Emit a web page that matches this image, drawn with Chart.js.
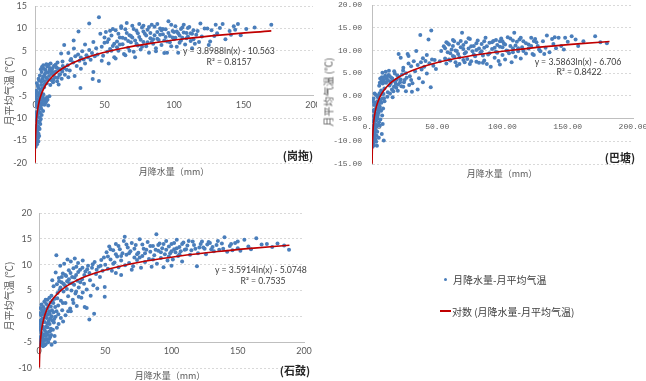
<!DOCTYPE html>
<html>
<head>
<meta charset="utf-8">
<script src="https://cdn.jsdelivr.net/npm/chart.js@4.4.0/dist/chart.umd.min.js"></script>
<style>
  body { margin: 0; width: 646px; height: 381px; background: #fff; position: relative; overflow: hidden; font-family: "Noto Sans CJK SC", sans-serif; }
  .box { position: absolute; overflow: hidden; }
  .t { position: absolute; white-space: nowrap; transform: translate(-50%, -50%); }
  .yt { position: absolute; white-space: nowrap; transform: translate(-50%, -50%) rotate(-90deg); font-size: 10px; color: #595959; }
  .xt { font-size: 9px; color: #595959; }
  .st { font-size: 11px; font-weight: bold; color: #262626; }
  .eq { font-family: Lato, sans-serif; font-size: 8.7px; color: #404040; }
  .lg { position: absolute; white-space: nowrap; transform: translateY(-50%); font-size: 10px; color: #404040; }
</style>
</head>
<body>
<div class="box" style="left:0;top:0;width:317px;height:180px"><canvas id="gangtuo" width="317" height="180"></canvas></div>
<div class="box" style="left:320px;top:0;width:326px;height:180px"><canvas id="batang" width="326" height="180"></canvas></div>
<div class="box" style="left:0;top:190px;width:317px;height:191px"><canvas id="shigu" width="317" height="191"></canvas></div>

<div class="yt" style="left:8px;top:91px">月平均气温 (℃)</div>
<div class="yt" style="left:328px;top:92px">月平均气温 (℃)</div>
<div class="yt" style="left:8px;top:296px">月平均气温 (℃)</div>

<div class="t xt" style="left:174px;top:171px">月降水量（mm）</div>
<div class="t xt" style="left:502px;top:173px">月降水量（mm）</div>
<div class="t xt" style="left:170px;top:375px">月降水量（mm）</div>

<div class="t st" style="left:298px;top:155px">(岗拖)</div>
<div class="t st" style="left:620px;top:157px">(巴塘)</div>
<div class="t st" style="left:295px;top:370px">(石鼓)</div>

<div class="t eq" style="left:229px;top:50px">y = 3.8988ln(x) - 10.563</div>
<div class="t eq" style="left:229px;top:61px">R² = 0.8157</div>
<div class="t eq" style="left:578px;top:61px">y = 3.5863ln(x) - 6.706</div>
<div class="t eq" style="left:579px;top:71px">R² = 0.8422</div>
<div class="t eq" style="left:261px;top:269px">y = 3.5914ln(x) - 5.0748</div>
<div class="t eq" style="left:263px;top:280px">R² = 0.7535</div>

<div style="position:absolute;left:443.5px;top:277.5px;width:3px;height:3px;border-radius:50%;background:#4a7ebb"></div>
<div class="lg" style="left:453px;top:279px">月降水量-月平均气温</div>
<div style="position:absolute;left:440px;top:310px;width:11px;height:1.6px;background:#c00000"></div>
<div class="lg" style="left:452px;top:311px">对数 (月降水量-月平均气温)</div>

<script>
// scatter points [rain mm, temp °C]
const gangtuoPoints = [
  [0.5,-16.4],[0.8,-15.5],[1.2,-14.8],[0.6,-14.2],[1.5,-13.9],[2.1,-14.5],[0.9,-13.2],[1.8,-12.8],[2.5,-13.5],[3.0,-14.0],
  [0.4,-12.1],[1.1,-11.7],[2.2,-11.9],[3.3,-12.4],[1.6,-10.8],[0.7,-10.3],[2.7,-10.9],[3.8,-11.3],[1.3,-9.6],[2.0,-9.1],
  [3.1,-9.8],[4.2,-10.2],[0.9,-8.7],[2.6,-8.2],[3.6,-8.8],[1.7,-7.6],[4.5,-7.9],[0.5,-7.1],[2.9,-7.3],[3.9,-6.8],
  [1.2,-6.4],[2.3,-6.0],[5.0,-6.6],[0.8,-5.6],[3.4,-5.4],[4.6,-5.9],[1.9,-4.9],[2.8,-4.4],[5.5,-5.2],[1.0,-3.9],
  [3.7,-3.6],[2.4,-3.2],[4.1,-4.1],[6.0,-4.7],[0.6,-4.3],[2.0,-2.8],[5.2,-3.4],[1.4,-2.2],[3.0,-1.6],[4.4,-2.6],
  [6.5,-3.1],[7.2,-5.8],[8.0,-6.3],[9.5,-7.2],[6.8,-7.0],[5.8,-8.4],[8.6,-5.4],[10.3,-5.1],[4.8,-9.3],[2.4,-15.2],[1.0,-12.6],
  [1.5,-15.8],[2.8,-12.2],[1.9,-11.0],[3.5,-10.6],[0.7,-9.0],[2.3,-8.5],[4.0,-7.4],[1.5,-6.8],[3.2,-6.2],[5.5,-6.9],
  [1.0,-5.0],[3.6,-4.8],[5.8,-5.6],[7.5,-6.6],[9.0,-5.9],[6.2,-6.1],
  [3.5,-0.5],[4.8,0.3],[5.5,-1.2],[6.2,1.0],[6.9,-0.3],[7.5,0.8],[8.1,-1.0],[8.8,1.5],[9.4,0.2],[10.1,-0.6],
  [10.7,1.2],[11.5,-1.5],[12.2,0.5],[12.9,-0.2],[13.6,1.6],[14.4,-0.9],[15.1,0.4],[15.9,-1.8],[16.7,1.0],[17.5,-0.4],
  [18.3,0.9],[19.2,-1.2],[20.0,1.6],[6.0,1.8],[8.4,-2.2],[11.0,-2.6],[13.0,-2.0],[7.0,-1.8],[5.0,1.4],[9.8,1.9],
  [14.8,1.9],[17.0,-2.5],[21.5,-0.3],[22.8,0.8],[24.0,-0.9],[16.2,2.4],[19.8,2.6],[23.5,1.8],[25.5,2.9],[18.8,4.4],
  [2.6,-1.2],[4.6,-1.9],[5.9,-0.7],[7.8,0.1],[9.1,-1.4],[10.4,0.6],[11.8,-0.1],[12.6,1.1],[14.0,0.2],[15.5,1.3],
  [16.4,-1.0],[18.0,-0.2],[19.6,0.4],[21.0,1.1],[8.2,2.0],[11.2,2.2],[13.2,-1.4],[4.2,0.9],[6.6,-2.5],
  [21,6.3],[24,4.5],[26,3.2],[27.5,2.4],[28,5.5],[29,3.8],[30,1.6],[31,4.2],[32,2.8],[33,3.5],
  [34,4.9],[35,3.1],[36,2.2],[37,4.0],[38,3.6],[39,5.2],[40,3.0],[41,4.5],[42,0.3],[43,3.8],
  [44,5.6],[45,4.2],[46,-1.7],[41.5,-1.3],[32.7,-3.3],[27.8,7.3],[31.3,9.3],[39,11.1],[46,12.5],[36,6.4],
  [42,7.0],[33,1.0],[25,0.6],[28.5,-0.6],
  [47,8.8],[48,5.9],[49,3.9],[50,6.8],[51,9.2],[52,4.8],[53,7.6],[54,5.4],[55,8.4],[56,6.1],
  [57,3.6],[58,9.6],[59,7.1],[60,5.0],[61,8.0],[62,10.1],[63,6.5],[64,4.3],[65,7.7],[66,9.0],
  [67,5.7],[68,8.5],[69,6.9],[70,10.6],[71,4.8],[72,7.3],[73,9.5],[74,6.2],[75,8.1],[76,5.3],
  [77,10.2],[78,7.0],[79,8.8],[80,6.0],[81,9.7],[82,4.6],[83,7.8],[84,10.8],[85,6.6],[86,8.5],
  [87,5.6],[88,9.2],[89,7.4],[90,10.0],[91,6.3],[92,8.7],[93,4.5],[94,9.8],[95,7.1],[96,11.6],
  [97,8.3],[98,6.0],[99,9.4],[100,7.6],[101,10.5],[102,5.9],[103,8.9],[104,6.8],[105,9.9],[106,7.9],
  [107,10.8],[108,6.4],[109,9.0],[110,8.2],[111,10.3],[112,7.2],[113,8.8],[114,9.6],[115,6.6],[48,2.8],
  [53,2.2],[58,3.3],[65,4.0],[72,3.6],[95,4.6],[103,4.6],[62,10.5],[75,11.0],[82,10.3],[56,9.9],
  [66,11.2],[88,11.0],[98,10.8],[70,8.0],[78,9.3],[84,7.0],[92,9.9],[100,9.2],[106,10.2],
  [50,8.0],[52,7.0],[54,9.5],[57,6.6],[60,8.8],[61,6.4],[63,7.9],[65,9.8],[67,7.2],[69,8.3],
  [71,9.9],[73,6.6],[74,8.9],[76,7.5],[78,10.6],[80,8.4],[81,6.9],[83,9.0],[85,7.6],[86,10.4],
  [88,7.7],[90,8.6],[91,9.6],[93,7.3],[94,8.1],[96,9.0],[97,6.9],[99,8.0],[101,7.9],[102,9.3],
  [104,8.4],[105,7.3],[107,9.1],[109,7.8],[110,10.1],[112,8.9],[114,7.6],[116,8.6],[55,5.0],[59,5.8],
  [68,5.0],[77,5.9],[87,4.9],
  [117,9.4],[118,7.0],[120,8.2],[122,10.0],[124,10.0],[125,6.3],[127,9.6],[129,8.3],[131,8.9],[133,10.1],
  [135,11.0],[137,7.6],[140,9.4],[141,8.6],[143,10.5],[144,9.7],[146,11.0],[148,8.5],[152,9.9],[158,10.2],
  [170,10.8],[119,11.1],[113,5.6],[126,7.1],[130,10.8]
];
const batangPoints = [
  [0.5,-11.2],[1.0,-10.6],[1.5,-10.9],[2.0,-9.8],[0.8,-9.3],[2.6,-9.6],[3.2,-10.1],[1.3,-8.6],[2.2,-8.1],[3.5,-8.8],
  [0.6,-7.7],[1.8,-7.2],[2.9,-7.5],[4.0,-7.9],[1.1,-6.6],[2.4,-6.2],[3.6,-6.8],[4.6,-6.4],[0.7,-5.6],[1.9,-5.2],
  [3.1,-5.5],[4.3,-5.0],[5.4,-5.8],[1.4,-4.4],[2.7,-4.0],[3.9,-4.6],[5.0,-3.8],[0.9,-3.3],[2.1,-3.0],[3.4,-2.6],
  [4.7,-3.2],[6.0,-2.4],[1.6,-2.0],[2.8,-1.5],[4.1,-1.2],[5.3,-1.8],[6.6,-0.9],[1.2,-0.6],[3.0,0.2],[4.5,-0.3],
  [5.8,0.6],[7.2,-1.5],[8.5,-2.8],[7.8,-4.3],[6.4,-5.2],[9.0,-9.8],[7.5,-8.4],[6.0,-6.6],[8.2,-6.2],[5.2,-9.2],
  [3.8,-11.0],[7.0,-3.3],[9.6,-1.2],[8.8,0.4],
  [1.2,-10.0],[2.4,-8.9],[0.9,-7.0],[3.0,-6.5],[1.7,-4.8],[4.4,-4.3],[2.3,-3.6],[5.6,-2.9],[3.7,-1.9],[1.0,-1.3],
  [6.2,-1.2],[4.9,0.0],[7.4,0.9],[2.0,0.5],[8.0,-0.6],
  [5.5,2.2],[6.3,3.8],[7.0,1.2],[7.6,4.1],[8.2,2.7],[8.9,3.5],[9.5,1.6],[10.1,4.4],[10.8,2.9],[11.4,3.7],
  [12.1,0.8],[12.7,4.6],[13.4,2.3],[14.0,3.1],[14.7,4.0],[15.3,1.4],[16.0,3.3],[16.8,2.0],[17.5,4.9],[18.2,2.6],
  [19.0,3.6],[19.8,1.1],[20.5,4.2],[6.8,0.3],[9.2,-0.5],[11.8,-0.2],[13.8,0.5],[15.8,-0.3],[8.0,5.1],[10.5,5.3],
  [13.0,5.5],[17.0,5.4],[21.5,3.0],[22.5,2.1],[23.0,4.7],
  [6.0,2.9],[7.2,3.2],[8.5,4.0],[9.8,3.0],[11.0,4.1],[12.3,3.4],[13.6,4.3],[14.3,2.7],[15.6,3.8],[17.8,3.1],
  [19.4,4.5],[16.4,1.0],[18.6,1.8],[20.0,2.5],[22.0,3.6],[24.5,3.0],[26.5,4.0],[28.5,2.4],[23.8,5.6],[30.0,3.5],
  [20.4,9.2],[22,8.4],[24,6.2],[25,3.5],[26,5.0],[27.3,9.2],[28,7.1],[29,4.3],[30,6.5],[30.6,0.9],
  [31,2.8],[32,7.6],[33,5.4],[33.9,9.9],[35,6.8],[36,3.9],[37,13.4],[37.5,7.4],[38,5.8],[39,8.3],
  [40,6.4],[41,7.7],[42,4.9],[43.3,12.4],[44,7.2],[45,1.9],[45.4,14.4],[46,8.0],[47,6.6],[48,7.9],
  [49,5.9],[35,1.4],[26,1.0],[39,3.0],[42,9.0],[28,8.8],[24,2.0],
  [55,10.9],[56,8.2],[57,7.1],[58,9.6],[59,11.3],[60,7.8],[61,10.2],[62,8.8],[63,12.0],[64,7.4],
  [65,9.9],[66,11.5],[67,8.5],[68,10.7],[69,13.9],[70,7.9],[71,9.3],[72,11.8],[73,8.1],[74,10.4],
  [75,12.5],[76,7.6],[77,9.8],[78,11.0],[79,8.7],[80,10.1],[81,12.2],[82,7.3],[83,9.5],[84,11.4],
  [85,8.9],[86,10.6],[87,12.8],[88,7.0],[89,9.1],[90,11.7],[91,6.4],[92,10.3],[93,12.1],[94,8.4],
  [95,9.7],[96,11.2],[97,7.7],[98,10.8],[99,12.6],[100,9.0],[101,11.5],[102,8.0],[103,10.0],[104,12.9],
  [105,9.4],[106,11.0],[107,7.4],[108,10.5],[109,13.9],[110,8.6],[111,11.9],[112,9.8],[113,12.4],[114,8.2],
  [115,10.7],[116,12.0],[118,9.3],[120,11.3],[122,12.8],[124,9.0],[126,11.8],[128,10.2],[57,11.8],[62,11.0],
  [70,11.2],[80,7.5],[86,7.8],[95,12.3],[65,6.6],[75,7.0],[100,12.0],[108,12.2],[98,6.9],[52,7.6],[53,9.9],
  [56,10.5],[58,11.6],[60,9.4],[62,12.3],[64,10.0],[66,9.2],[68,12.1],[70,10.3],[72,9.6],[74,12.7],
  [76,10.9],[78,9.1],[80,11.6],[82,10.4],[84,9.8],[86,12.0],[88,10.9],[90,9.4],[92,11.8],[94,10.6],
  [96,9.5],[98,12.0],[100,10.7],[102,11.3],[104,9.9],[106,12.6],[108,9.6],[110,11.1],[112,10.5],[114,12.8],
  [116,9.9],[118,11.6],[120,10.4],[122,11.0],[124,12.1],[59,8.0],[63,8.6],[67,7.0],[71,7.4],[85,7.3],
  [125,12.5],[127,11.0],[129,9.8],[131,12.0],[133,10.6],[134,13.3],[136,9.6],[138,12.5],[139,11.4],[141,10.5],
  [143,12.8],[145,11.0],[147,10.2],[150,11.9],[153,13.1],[156,12.4],[158,11.0],[162,12.0],[171,13.1],[175,11.8],
  [180,11.6],[132,9.2],[123,9.2],[140,12.9],[148,12.8]
];
const shiguPoints = [
  [0.5,-5.6],[1.0,-4.8],[1.5,-3.9],[2.0,-5.2],[2.5,-4.2],[3.0,-5.8],[3.5,-3.5],[4.0,-4.6],[4.5,-2.8],[5.0,-5.4],
  [5.5,-3.2],[6.0,-4.4],[6.5,-2.1],[7.0,-5.0],[7.5,-3.0],[8.0,-1.5],[8.5,-4.0],[9.0,-2.4],[9.5,-5.5],[10.0,-0.8],
  [0.8,-2.6],[1.4,-1.5],[2.2,-0.5],[2.9,-2.0],[3.6,0.4],[4.3,-1.1],[5.1,0.9],[5.8,-0.3],[6.6,1.6],[7.3,-0.9],
  [8.1,0.5],[8.9,1.9],[9.6,0.0],[0.6,0.6],[1.2,1.6],[1.9,2.3],[2.6,0.9],[3.3,1.8],[4.0,2.8],[4.8,1.3],
  [5.5,2.4],[6.3,3.2],[7.1,2.1],[7.9,3.6],[8.7,2.7],[9.4,4.0],[1.7,-3.2],[3.8,-2.5],[6.2,-1.4],[0.4,-0.9],
  [2.4,-4.1],[4.7,-3.8],[10.5,-2.6],[11.2,-1.2],[11.8,-3.8],[12.5,-0.1],[13.2,1.0],[10.8,2.6],[12.0,-5.0],[13.5,-2.2],
  [0.7,-4.3],[1.3,-5.4],[2.1,-3.4],[2.8,-5.0],[3.4,-4.5],[4.2,-5.6],[5.3,-4.6],[6.8,-3.6],[7.7,-4.4],[8.3,-2.9],
  [9.2,-3.6],[1.1,-2.0],[2.5,-1.2],[3.1,-0.4],[4.6,0.1],[5.4,-2.0],[6.9,0.4],[7.6,1.0],[8.4,-0.4],[9.8,1.2],
  [1.6,0.2],[2.3,1.2],[3.9,1.0],[5.0,3.2],[6.0,0.3],[10.2,3.0],[11.0,0.8],[12.2,1.8],[13.8,3.5],[14.6,0.4],
  [10,7.0],[11,5.8],[12,3.4],[13.1,11.8],[13.5,6.2],[14,4.5],[14.5,2.1],[15,7.4],[15.5,5.1],[16,9.8],
  [16.5,3.0],[17,6.6],[17.5,1.2],[18,8.3],[18.5,4.8],[19,10.2],[19.5,6.0],[20,2.6],[20.5,7.8],[21,5.3],
  [21.5,11.0],[22,3.9],[22.5,8.9],[23,6.4],[23.5,1.5],[24,10.6],[24.5,5.0],[25,7.6],[25.5,3.2],[26,9.3],
  [26.5,6.1],[27,11.2],[27.5,4.4],[28,8.0],[28.5,2.0],[29,6.9],[29.5,10.3],[30,5.6],[31,9.0],[32,3.6],
  [32.5,7.2],[33,10.8],[34,6.3],[34.5,1.8],[35,8.7],[36,5.2],[37,9.8],[38,-0.6],[38.5,7.0],[39,4.0],
  [40,9.4],[41,6.0],[41.6,0.5],[42,10.5],[43,8.2],[44,5.4],[45,9.6],[46,7.6],[47,10.9],[48,8.8],
  [49.6,5.7],[49.6,3.8],[49,11.4],[11.5,-0.5],[14.8,-1.5],[18.2,-1.0],[16.5,-0.3],[24,1.0],[20,0.2],[30,3.8],
  [36,1.6],[12.6,8.5],
  [15.2,6.8],[16.2,5.6],[17.2,7.6],[18.4,6.3],[19.8,8.0],[21.2,6.8],[22.6,7.2],[23.8,8.4],[25.2,6.4],[26.8,7.5],
  [28.2,9.6],[29.6,8.6],[31.2,6.6],[32.8,9.4],[34.2,8.0],[36.4,9.1],[38.0,8.4],[40.5,10.1],[43.5,9.0],[46.5,9.8],
  [18,2.6],[22,1.0],[26,2.6],[28,4.8],[33,4.6],
  [50,10.0],[51,12.4],[52,9.2],[53,13.5],[54,11.0],[55,8.8],[56,12.8],[57,10.4],[58,14.0],[59,11.6],
  [60,9.5],[61,13.0],[62,10.8],[63,12.2],[64,14.6],[64.7,15.4],[65,9.9],[66,11.9],[67,13.3],[68,10.3],
  [69,12.6],[70,14.2],[71,9.7],[72,11.4],[73,13.8],[74,10.9],[75,12.3],[76,14.9],[77,9.4],[78,11.7],
  [79,13.1],[80,10.5],[81,12.9],[82,14.4],[83,11.1],[84,12.5],[85,9.6],[86,13.6],[87,11.8],[88.6,15.9],
  [89,10.2],[90,12.7],[91,14.1],[92,11.3],[93,13.2],[94,9.5],[95,12.0],[96,14.6],[97,10.8],[98,13.5],
  [99,12.2],[100,14.0],[101,11.0],[102,13.0],[103,12.4],[104,14.8],[105,11.7],[106,13.4],[107,12.6],[108,10.6],
  [109,14.3],[110,12.9],[112,13.7],[114,11.9],[116,14.5],[118,13.1],[119.2,9.7],[120,12.2],[122,14.0],[124,13.3],
  [126,12.0],[128,14.4],[130,13.0],[132,12.6],[134,13.8],[136,12.9],[138,14.1],[140,15.3],[142,12.5],[144,13.6],
  [146,12.8],[148,14.2],[150,13.2],[152,12.7],[155,14.8],[158,13.5],[160,13.0],[164,15.1],[168,13.9],[172,14.0],
  [176,13.4],[180,14.1],[185,13.7],[188.7,12.9],[58,8.4],[62,8.0],[70,9.0],[100,9.8],
  [52,11.6],[54,13.0],[56,10.2],[58,12.0],[60,13.6],[62,11.7],[66,13.9],[68,12.2],[72,13.1],[74,12.0],
  [76,11.4],[78,13.9],[80,12.2],[84,13.6],[86,11.0],[88,12.9],[90,13.8],[92,12.4],[94,14.0],[96,12.9],
  [98,11.6],[100,12.6],[102,14.2],[104,13.2],[106,12.0],[108,14.0],[111,13.0],[113,14.6],[115,12.8],[117,13.8],
  [121,13.3],[123,14.5],[125,13.1],[127,13.9],[129,14.2],[131,13.4],[135,14.6],[139,13.1],[145,14.0],[150,14.5]
];

// log trendline coefficients as printed on each panel: y = a*ln(x) + b
const gangtuoCoef = [3.8988, -10.563];
const batangCoef = [3.5863, -6.706];
const shiguCoef = [3.5914, -5.0748];

// x positions where the trendline is sampled
const gangtuoTrendX = [0.09, 0.1, 0.12, 0.15, 0.2, 0.25, 0.3, 0.4, 0.5, 0.7, 1, 1.4, 2, 3, 4, 6, 8, 11, 15, 20, 27, 36, 48, 63, 82, 105, 135, 170];
const batangTrendX = [0.1, 0.12, 0.15, 0.2, 0.25, 0.3, 0.4, 0.5, 0.7, 1, 1.4, 2, 3, 4, 6, 8, 11, 15, 20, 27, 36, 48, 63, 82, 105, 135, 160, 182];
const shiguTrendX = [0.26, 0.3, 0.35, 0.4, 0.5, 0.7, 1, 1.4, 2, 3, 4, 6, 8, 11, 15, 20, 27, 36, 48, 63, 82, 105, 135, 160, 189];

const xRange = [0, 200];
const gangtuoYRange = [-20, 15];
const batangYRange = [-15, 20];
const shiguYRange = [-10, 20];

function drawStation(id, points, coef, trendX, yRange, cfg) {
  const tickFont = { family: cfg.tickFamily, size: cfg.tickSize };
  new Chart(document.getElementById(id), {
    type: 'scatter',
    data: {
      datasets: [
        {
          data: trendX.map(x => ({ x: x, y: coef[0] * Math.log(x) + coef[1] })),
          showLine: true,
          borderColor: '#c00000',
          borderWidth: 1.6,
          pointRadius: 0,
          cubicInterpolationMode: 'monotone'
        },
        {
          data: points.map(p => ({ x: p[0], y: p[1] })),
          backgroundColor: '#4a7ebb',
          borderWidth: 0,
          pointRadius: 2
        }
      ]
    },
    options: {
      responsive: false,
      animation: false,
      layout: { padding: cfg.pad },
      plugins: { legend: { display: false }, tooltip: { enabled: false } },
      scales: {
        x: {
          type: 'linear',
          position: { y: -5 },
          min: xRange[0], max: xRange[1],
          grid: { color: 'rgba(0,0,0,0)', drawTicks: false },
          border: { color: '#bfbfbf' },
          ticks: { stepSize: 50, padding: 4, maxRotation: 0, autoSkip: false, color: '#595959', font: tickFont, callback: cfg.fmt },
          afterFit: s => { s.paddingLeft = 0; s.paddingRight = 0; }
        },
        y: {
          type: 'linear',
          min: yRange[0], max: yRange[1],
          grid: { color: '#d9d9d9', drawTicks: false },
          border: { color: '#bfbfbf', dash: [2, 2] },
          ticks: { stepSize: 5, padding: cfg.yPad, color: '#595959', font: tickFont, callback: cfg.fmt },
          afterFit: s => { s.width = cfg.yWidth; s.paddingTop = 0; s.paddingBottom = 0; }
        }
      }
    }
  });
}

const plain = v => String(v);
const fixed2 = v => v.toFixed(2);

drawStation('gangtuo', gangtuoPoints, gangtuoCoef, gangtuoTrendX, gangtuoYRange,
  { pad: { left: 0, top: 6, right: 1, bottom: 17 }, yWidth: 35, yPad: 8, fmt: plain, tickFamily: 'Lato', tickSize: 9 });
drawStation('batang', batangPoints, batangCoef, batangTrendX, batangYRange,
  { pad: { left: 0, top: 5, right: 13, bottom: 16 }, yWidth: 52, yPad: 10, fmt: fixed2, tickFamily: 'Liberation Mono', tickSize: 8 });
drawStation('shigu', shiguPoints, shiguCoef, shiguTrendX, shiguYRange,
  { pad: { left: 0, top: 23, right: 13, bottom: 13 }, yWidth: 39, yPad: 7, fmt: plain, tickFamily: 'Lato', tickSize: 9 });
</script>
</body>
</html>
